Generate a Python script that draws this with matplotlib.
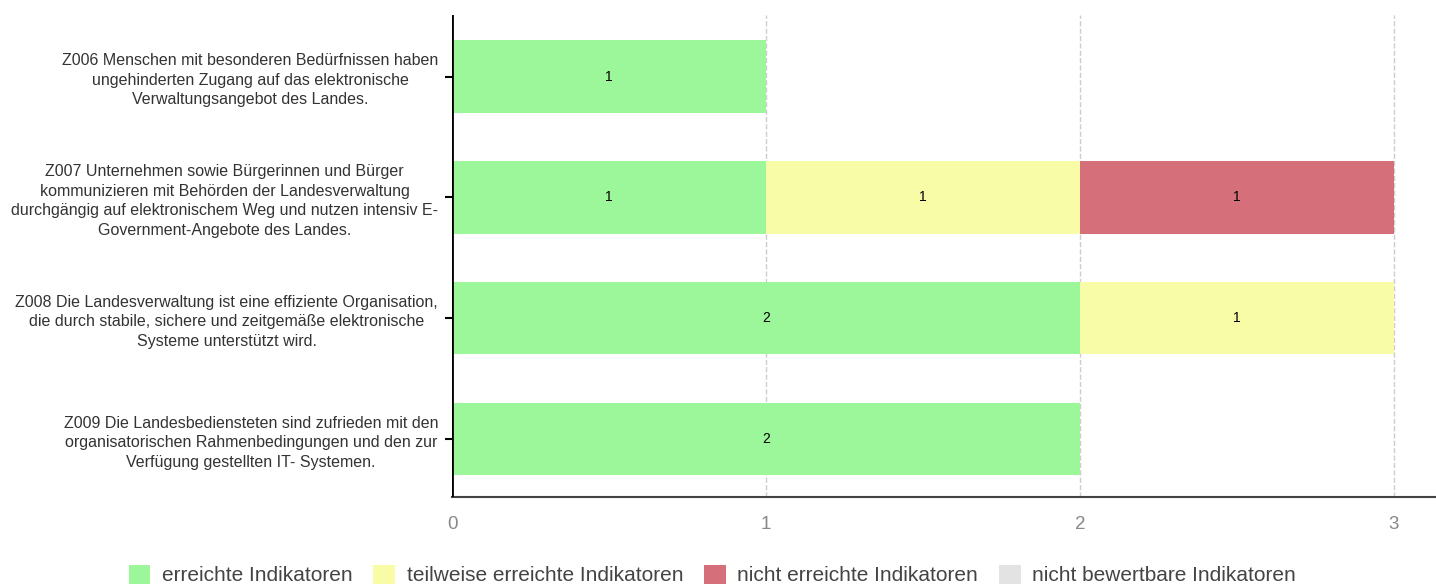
import matplotlib.pyplot as plt
import numpy as np
from matplotlib.patches import Patch

plt.rcParams['font.family'] = ['Liberation Sans', 'DejaVu Sans']

# Daten
ziele = [
    "Z006 Menschen mit besonderen Bedürfnissen haben\nungehinderten Zugang auf das elektronische\nVerwaltungsangebot des Landes.",
    "Z007 Unternehmen sowie Bürgerinnen und Bürger\nkommunizieren mit Behörden der Landesverwaltung\ndurchgängig auf elektronischem Weg und nutzen intensiv E-\nGovernment-Angebote des Landes.",
    "Z008 Die Landesverwaltung ist eine effiziente Organisation,\ndie durch stabile, sichere und zeitgemäße elektronische\nSysteme unterstützt wird.",
    "Z009 Die Landesbediensteten sind zufrieden mit den\norganisatorischen Rahmenbedingungen und den zur\nVerfügung gestellten IT- Systemen.",
]
erreicht = [1, 1, 2, 2]
teilweise = [0, 1, 1, 0]
nicht_erreicht = [0, 1, 0, 0]
nicht_bewertbar = [0, 0, 0, 0]

kategorien = ["erreichte Indikatoren", "teilweise erreichte Indikatoren",
              "nicht erreichte Indikatoren", "nicht bewertbare Indikatoren"]
farben = ["#9cf69a", "#f9fca6", "#d5707a", "#e3e3e3"]

fig = plt.figure(figsize=(14.36, 5.86), dpi=100)
ax = fig.add_axes([452 / 1436, 1 - 497 / 586, 1 - 452 / 1436, (497 - 15) / 586])

y = np.arange(len(ziele))
links = np.zeros(len(ziele))
for werte, farbe in zip([erreicht, teilweise, nicht_erreicht, nicht_bewertbar], farben):
    werte = np.array(werte, dtype=float)
    ax.barh(y, werte, left=links, height=0.6, color=farbe, zorder=2)
    for yi, w, l in zip(y, werte, links):
        if w > 0:
            ax.text(l + w / 2, yi, str(int(w)), ha='center', va='center',
                    fontsize=10, color='black', zorder=3)
    links += werte

ax.set_xlim(0, 3.134)
ax.set_ylim(3.48, -0.51)
ax.set_xticks([0, 1, 2, 3])
ax.set_xticklabels(['0', '1', '2', '3'], fontsize=13.5, color='#888888')
ax.set_yticks(y)
ax.set_yticklabels(ziele, fontsize=11.5, color='#333333', multialignment='center',
                   linespacing=1.38)
ax.tick_params(axis='y', length=5, width=1.5, color='black', pad=5)
ax.tick_params(axis='x', length=0, pad=14)

ax.grid(axis='x', linestyle='--', color='#cccccc', linewidth=1, zorder=0)
ax.axvline(0, color='black', linewidth=2, zorder=4)
for s in ['top', 'right', 'left']:
    ax.spines[s].set_visible(False)
ax.spines['bottom'].set_color('#444444')
ax.spines['bottom'].set_linewidth(1.5)

handles = [Patch(facecolor=f, edgecolor='none') for f in farben]
fig.legend(handles, kategorien, loc='center', bbox_to_anchor=(0.496, 1 - 575 / 586),
           ncol=4, frameon=False, fontsize=15, handlelength=1.05, handleheight=1.05,
           columnspacing=1.0, handletextpad=0.55, labelcolor='#444444')

fig.savefig('out.png', dpi=100)
